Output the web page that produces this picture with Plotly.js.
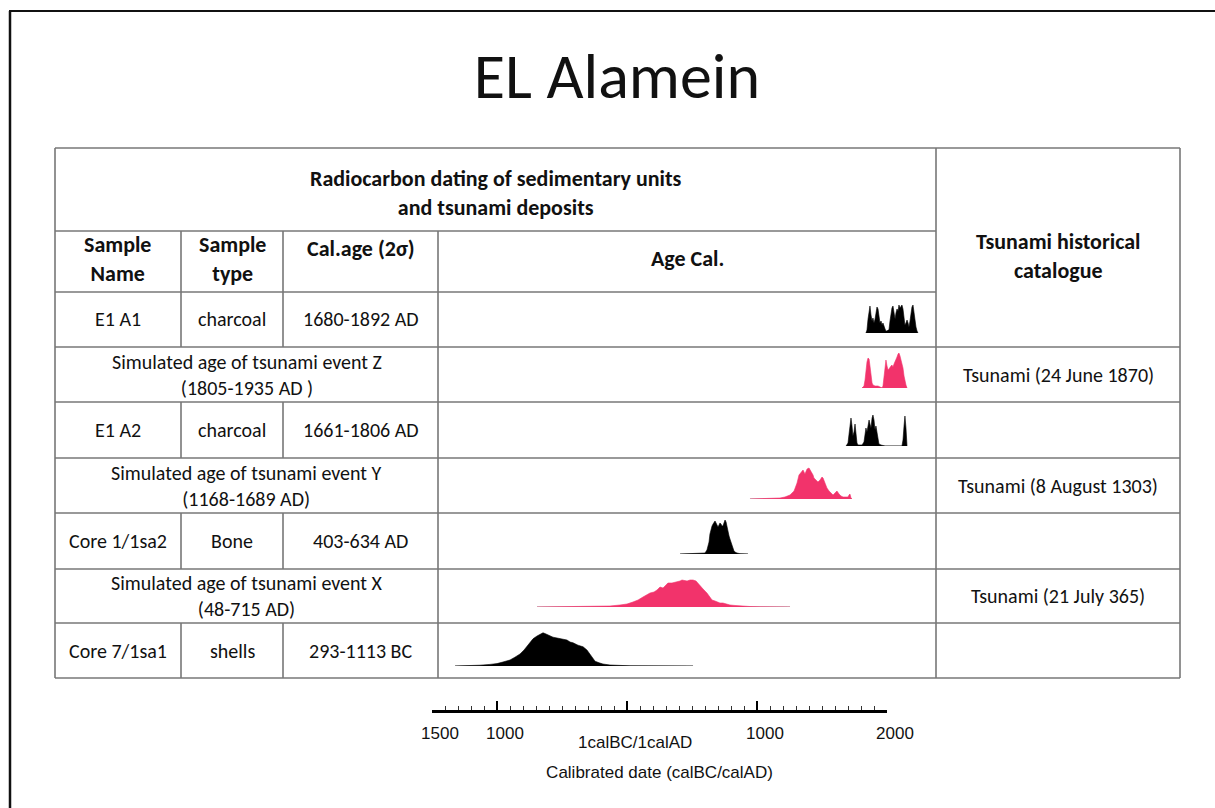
<!DOCTYPE html>
<html><head><meta charset="utf-8">
<script src="https://cdn.plot.ly/plotly-3.0.1.min.js"></script>
<style>html,body{margin:0;padding:0;background:#fff}#chart{width:1215px;height:808px}</style>
</head><body><div id="chart"></div>
<script>
// ---------- DATA ----------
const chartTitle = 'EL Alamein';
const headerMain = ['Radiocarbon dating of sedimentary units', 'and tsunami deposits'];
const headerCols = [['Sample', 'Name'], ['Sample', 'type'], ['Cal.age (2\u03c3)'], ['Age Cal.'], ['Tsunami historical', 'catalogue']];
const sampleNames = ['E1 A1', 'E1 A2', 'Core 1/1sa2', 'Core 7/1sa1'];
const sampleTypes = ['charcoal', 'charcoal', 'Bone', 'shells'];
const sampleAges = ['1680-1892 AD', '1661-1806 AD', '403-634 AD', '293-1113 BC'];
const simulatedEvents = ['Simulated age of tsunami event Z', 'Simulated age of tsunami event Y', 'Simulated age of tsunami event X'];
const simulatedRanges = ['(1805-1935 AD )', '(1168-1689 AD)', '(48-715 AD)'];
const catalogue = ['Tsunami (24 June 1870)', 'Tsunami (8 August 1303)', 'Tsunami (21 July 365)'];

// calibrated probability distributions (year on the drawn axis, relative probability)
const e1a1Year = [1838,1846,1854,1862,1869,1877,1885,1892,1900,1908,1915,1923,1931,1938,1946,1954,1962,1969,1977,1985,1992,2000,2008,2015,2023,2031,2038,2046,2054,2062,2069,2077,2085,2092,2100,2108,2115,2123,2131,2138,2146,2154,2162,2169,2177,2185,2192,2200,2208,2215,2223,2231,2238];
const e1a1Prob = [0,.075,.35,.5,.675,.45,.3,.375,.25,.35,.5,.65,.6,.35,.25,.3,.2,.25,.15,.1,.05,.05,.075,.075,.3,.5,.625,.675,.45,.35,.5,.6,.55,.7,.625,.675,.7,.6,.35,.2,.25,.325,.25,.15,.3,.5,.65,.7,.5,.3,.15,.05,0];
const eventZYear = [1808,1823,1831,1838,1846,1854,1862,1869,1877,1885,1892,1908,1931,1946,1962,1969,1977,1985,1992,2000,2008,2015,2023,2031,2038,2046,2054,2062,2069,2077,2085,2092,2100,2108,2115,2123,2131,2138,2146,2154];
const eventZProb = [0,.05,.2,.45,.65,.75,.725,.55,.3,.125,.075,.05,.05,.025,0,.05,.35,.65,.7,.55,.45,.475,.5,.55,.575,.525,.6,.65,.7,.775,.85,.875,.8,.7,.625,.5,.3,.175,.075,0];
const e1a2Year = [1685,1700,1708,1715,1723,1731,1738,1746,1754,1762,1769,1777,1808,1823,1831,1838,1846,1854,1862,1869,1877,1885,1892,1900,1908,1915,1923,1931,1938,1954,1985,2115,2123,2131,2138,2146,2154];
const e1a2Prob = [0,.075,.3,.6,.7,.5,.25,.35,.55,.3,.075,.025,.025,.1,.3,.45,.35,.5,.65,.55,.45,.7,.775,.65,.4,.5,.35,.15,.05,.025,0,0,.15,.5,.75,.45,0];
const eventYYear = [946,1138,1177,1215,1254,1285,1308,1323,1338,1354,1369,1385,1400,1415,1431,1438,1454,1469,1485,1500,1508,1523,1538,1554,1569,1585,1600,1615,1631,1646,1662,1685,1700,1708,1715,1723,1731];
const eventYProb = [0,.012,.025,.05,.1,.2,.4,.6,.675,.725,.625,.75,.775,.7,.6,.525,.475,.425,.475,.55,.525,.375,.275,.2,.15,.1,.15,.2,.125,.075,.05,.05,.05,.1,.125,.025,0];
const core1Year = [408,562,600,615,631,638,646,654,662,669,677,685,692,700,708,715,723,731,738,746,754,762,769,777,785,792,800,808,815,823,831,846,869,931];
const core1Prob = [0,.008,.025,.1,.3,.5,.625,.7,.75,.8,.825,.775,.7,.675,.725,.775,.75,.7,.7,.8,.85,.8,.675,.55,.45,.375,.3,.2,.125,.075,.05,.025,.008,0];
const eventXYear = [-692,-362,-208,-131,-54,0,46,85,123,154,177,208,231,254,277,300,315,346,385,408,423,446,462,485,508,531,562,585,615,638,654,677,692,715,738,769,792,831,869,946,1023,1254];
const eventXProb = [0,.008,.018,.025,.05,.075,.125,.175,.25,.3,.35,.375,.425,.5,.475,.55,.6,.6,.625,.65,.675,.65,.65,.675,.675,.65,.55,.45,.35,.25,.175,.15,.125,.1,.1,.075,.05,.038,.025,.012,.005,0];
const core7Year = [-1323,-1208,-1131,-1054,-1000,-954,-900,-862,-823,-792,-769,-746,-723,-692,-669,-646,-623,-592,-569,-538,-500,-462,-438,-415,-377,-338,-308,-285,-262,-246,-215,-185,-131,-77,23,508];
const core7Prob = [0,.008,.02,.04,.06,.1,.15,.22,.3,.4,.5,.6,.68,.75,.78,.83,.8,.75,.72,.7,.68,.65,.6,.58,.52,.48,.4,.3,.2,.12,.08,.05,.025,.012,.005,0];

const axisTickVals = [-1500, -1000, 0, 1000, 2000];
const axisTickText = ['1500', '1000', '', '1000', '2000'];
const axisMidLabel = '1calBC/1calAD';
const axisTitle = 'Calibrated date (calBC/calAD)';

// ---------- LAYOUT HELPERS ----------
const W = 1215, H = 808;
const PX = v => v / W, PY = v => 1 - v / H;
const BLACK = '#000000', PINK = '#f2336b', GRID = '#777777';
const TFONT = 'Carlito, Calibri, Lato, sans-serif';
const AFONT = 'Liberation Sans, Arial, sans-serif';

const rows = [
  {x: e1a1Year, y: e1a1Prob, color: BLACK},
  {x: eventZYear, y: eventZProb, color: PINK},
  {x: e1a2Year, y: e1a2Prob, color: BLACK},
  {x: eventYYear, y: eventYProb, color: PINK},
  {x: core1Year, y: core1Prob, color: BLACK},
  {x: eventXYear, y: eventXProb, color: PINK},
  {x: core7Year, y: core7Prob, color: BLACK}
];
const rowLines = [292, 347, 402, 458, 513, 569, 623, 678];
const baselines = [333, 388, 446, 499, 554, 607, 666];
const plotScale = 40;

const traces = [];
const layout = {
  width: W, height: H, margin: {l: 0, r: 0, t: 0, b: 0},
  paper_bgcolor: '#fff', plot_bgcolor: 'rgba(0,0,0,0)', showlegend: false,
  title: {text: chartTitle, x: PX(617), y: PY(76), xanchor: 'center', yanchor: 'middle',
          font: {family: TFONT, size: 64, color: '#111'}},
  xaxis: {domain: [0, 1], range: [-627 / 0.13, (W - 627) / 0.13], visible: false, fixedrange: true},
  yaxis: {domain: [0, 1], range: [0, 1], visible: false, fixedrange: true},
  xaxis2: {
    domain: [PX(432), PX(887)], range: [-1500, 2000], anchor: 'free', position: PY(711),
    showline: true, linecolor: '#000', linewidth: 3, showgrid: false, zeroline: false,
    ticks: 'inside', ticklen: 9, tickwidth: 1.5, tickcolor: '#000',
    tickmode: 'array', tickvals: axisTickVals, ticktext: axisTickText,
    tickfont: {family: AFONT, size: 17, color: '#111'}, ticklabelshift: 8, ticklabelstandoff: 6,
    minor: {dtick: 100, ticks: 'inside', ticklen: 4, tickwidth: 1, tickcolor: '#333', showgrid: false},
    title: {text: axisTitle, font: {family: AFONT, size: 17, color: '#111'}, standoff: 23},
    fixedrange: true
  },
  yaxis9: {domain: [0, 0.05], visible: false, anchor: 'x2', fixedrange: true},
  shapes: [], annotations: []
};

rows.forEach((r, i) => {
  const ya = 'yaxis' + (i + 2);
  const b = baselines[i];
  layout[ya] = {domain: [PY(b), PY(b - plotScale)], range: [0, 1], visible: false, anchor: 'x', fixedrange: true};
  traces.push({x: [r.x[0], r.x[r.x.length - 1]], y: [0, 0], xaxis: 'x', yaxis: 'y' + (i + 2),
    mode: 'lines', line: {color: '#9a9a9a', width: 1}, hoverinfo: 'skip'});
  traces.push({x: r.x, y: r.y, xaxis: 'x', yaxis: 'y' + (i + 2), mode: 'lines', fill: 'tozeroy',
    fillcolor: r.color, line: {color: r.color, width: 0.6}, hoverinfo: 'x'});
});
traces.push({x: [axisTickVals[0]], y: [0], xaxis: 'x2', yaxis: 'y9', mode: 'markers',
  marker: {opacity: 0}, hoverinfo: 'skip'});

// table lines
function line(x0, y0, x1, y1, w, c) {
  layout.shapes.push({type: 'line', xref: 'paper', yref: 'paper', x0: PX(x0), y0: PY(y0), x1: PX(x1), y1: PY(y1),
    line: {color: c || GRID, width: w || 1.6}});
}
// outer picture frame
line(9, 11, W, 11, 2, '#111');
line(10, 11, 10, H, 2.5, '#111');

const cL = 55, c1 = 181, c2 = 283, c3 = 438, c4 = 936, cR = 1180, tTop = 148, tSplit = 231;
line(cL, tTop, cR, tTop);
line(cL, tSplit, c4, tSplit);
line(cL, rowLines[0], c4, rowLines[0]);
for (let k = 1; k < rowLines.length; k++) line(cL, rowLines[k], cR, rowLines[k]);
line(cL, tTop, cL, rowLines[7]);
line(c4, tTop, c4, rowLines[7]);
line(cR, tTop, cR, rowLines[7]);
line(c3, tSplit, c3, rowLines[7]);
line(c1, tSplit, c1, rowLines[0]);
line(c2, tSplit, c2, rowLines[0]);
[0, 2, 4, 6].forEach(r => { line(c1, rowLines[r], c1, rowLines[r + 1]); line(c2, rowLines[r], c2, rowLines[r + 1]); });

function txt(lines, x, y, size, bold) {
  const t = lines.map(s => bold ? '<b>' + s + '</b>' : s).join('<br>');
  layout.annotations.push({text: t, xref: 'paper', yref: 'paper', x: PX(x), y: PY(y),
    xanchor: 'center', yanchor: 'middle', showarrow: false, font: {family: TFONT, size: size, color: '#111'}});
}
const colC = [(cL + c1) / 2, (c1 + c2) / 2, (c2 + c3) / 2, (c3 + c4) / 2, (c4 + cR) / 2];
const mergedC = (cL + c3) / 2;
const HB = 22, RB = 20;
txt(headerMain, (cL + c4) / 2, 193, HB, true);
txt(headerCols[0], colC[0], 259, HB, true);
txt(headerCols[1], colC[1], 259, HB, true);
txt(headerCols[2], colC[2], 248, HB, true);
txt(headerCols[3], colC[3], 259, HB, true);
txt(headerCols[4], colC[4], 256, HB, true);

[0, 2, 4, 6].forEach((r, k) => {
  const cy = (rowLines[r] + rowLines[r + 1]) / 2;
  txt([sampleNames[k]], colC[0], cy, RB); txt([sampleTypes[k]], colC[1], cy, RB); txt([sampleAges[k]], colC[2], cy, RB);
});
[1, 3, 5].forEach((r, k) => {
  const cy = (rowLines[r] + rowLines[r + 1]) / 2;
  txt([simulatedEvents[k], simulatedRanges[k]], mergedC, cy, RB);
  txt([catalogue[k]], colC[4], cy, RB);
});

layout.annotations.push({text: axisMidLabel, xref: 'x2', yref: 'paper', x: 0, xshift: 8, y: PY(742),
  xanchor: 'center', yanchor: 'middle', showarrow: false, font: {family: AFONT, size: 17, color: '#111'}});

Plotly.newPlot('chart', traces, layout, {displayModeBar: false, staticPlot: true});
</script>
</body></html>
